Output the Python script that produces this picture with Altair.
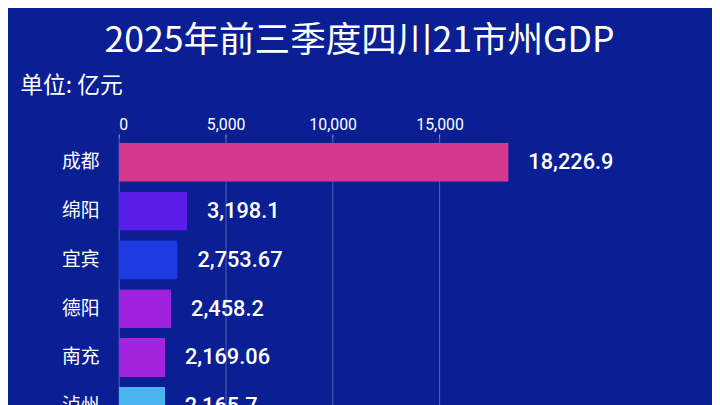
import altair as alt
import pandas as pd

cities = ["成都", "绵阳", "宜宾", "德阳", "南充", "泸州"]
values = [18226.9, 3198.1, 2753.67, 2458.2, 2169.06, 2165.7]
labels = ["18,226.9", "3,198.1", "2,753.67", "2,458.2", "2,169.06", "2,165.7"]
colors = ["#D6388F", "#5B1EEA", "#1E3AE0", "#A020E0", "#A224DC", "#4AB4F0"]
x_ticks = [0, 5000, 10000, 15000]

df = pd.DataFrame({"city": cities, "value": values, "label": labels})

CJK = "Noto Sans CJK SC"

y_enc = alt.Y(
    "city:N",
    sort=cities,
    scale=alt.Scale(paddingInner=0.2, paddingOuter=0.1),
    axis=alt.Axis(
        title="单位: 亿元",
        titleAngle=0,
        titleAlign="left",
        titleBaseline="middle",
        titleX=-100,
        titleY=-53,
        titleFont=CJK,
        titleFontSize=23,
        titleFontWeight="normal",
        titleColor="white",
        labelFont=CJK,
        labelFontSize=19,
        labelColor="white",
        labelPadding=20,
        ticks=False,
        domain=False,
    ),
)

x_enc = alt.X(
    "value:Q",
    scale=alt.Scale(domain=[0, 19000], nice=False),
    axis=alt.Axis(
        orient="top",
        title=None,
        values=x_ticks,
        format=",d",
        labelFont="Roboto",
        labelFontSize=16,
        labelColor="white",
        labelPadding=2,
        tickSize=4,
        tickColor="#8fa2e6",
        domain=False,
        grid=True,
        gridColor="#ffffff",
        gridOpacity=0.3,
        gridWidth=1,
    ),
)

bars = alt.Chart(df).mark_bar(cornerRadius=1).encode(
    y=y_enc,
    x=x_enc,
    color=alt.Color("city:N", scale=alt.Scale(domain=cities, range=colors), legend=None),
)

text = alt.Chart(df).mark_text(
    align="left", baseline="middle", dx=20, font="Roboto", fontSize=22,
    fontWeight=500, color="white"
).encode(
    y=alt.Y("city:N", sort=cities),
    x=alt.X("value:Q"),
    text="label:N",
)

chart = (
    alt.layer(bars, text)
    .properties(
        width=411,
        height=296,
        title=alt.TitleParams(
            "2025年前三季度四川21市州GDP",
            anchor="middle",
            frame="group",
            dx=38,
            offset=15,
            font=CJK,
            fontSize=36,
            fontWeight="normal",
            color="white",
        ),
        autosize=alt.AutoSizeParams(type="none"),
        padding={"left": 112, "top": 129, "right": 189, "bottom": 0},
        background="#0A1F93",
    )
    .configure_view(stroke=None)
)

chart.save("out.html", embed_options={"renderer": "svg", "actions": False})
